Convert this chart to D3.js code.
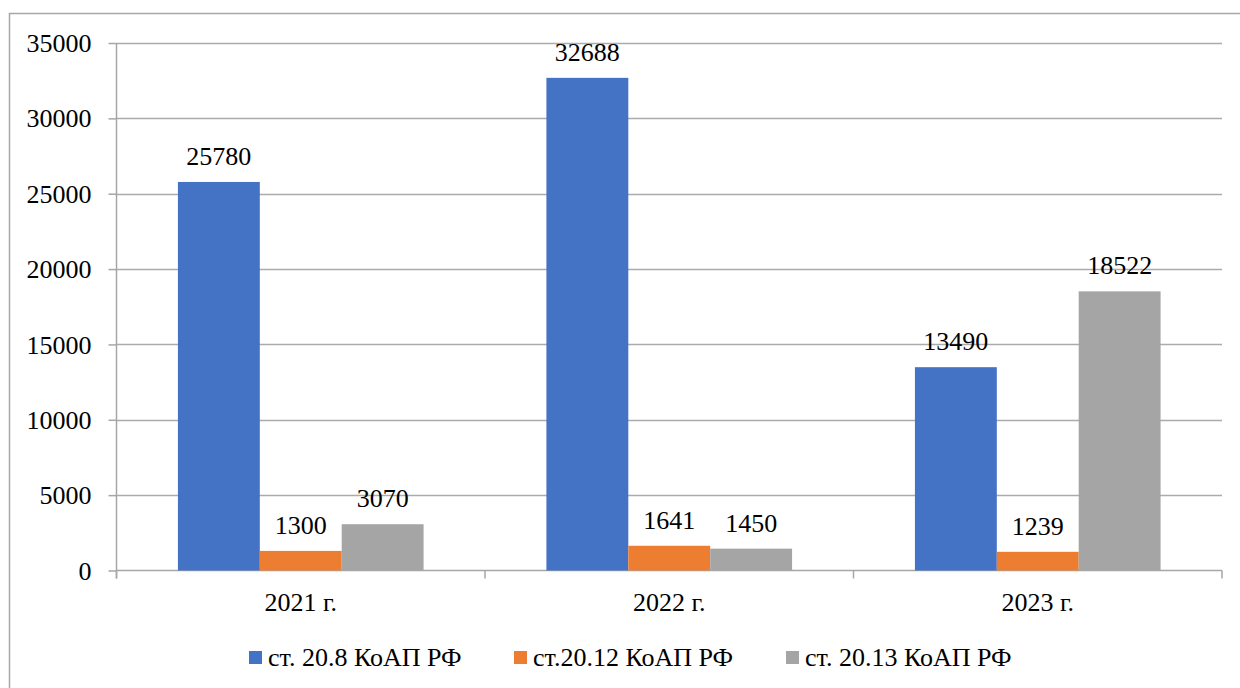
<!DOCTYPE html>
<html>
<head>
<meta charset="utf-8">
<script src="https://cdn.jsdelivr.net/npm/d3@7"></script>
<style>
  html, body { margin: 0; padding: 0; background: #fff; }
  svg { display: block; }
  svg text { font-family: "Liberation Serif", "Times New Roman", Tinos, serif !important; }
</style>
</head>
<body>
<svg id="fig" width="1240" height="688" style="font-family: 'Liberation Serif', 'Times New Roman', serif"></svg>
<script>
const categories = ["2021 г.", "2022 г.", "2023 г."];
const seriesNames = ["ст. 20.8 КоАП РФ", "ст.20.12 КоАП РФ", "ст. 20.13 КоАП РФ"];
const series208 = [25780, 32688, 13490];
const series2012 = [1300, 1641, 1239];
const series2013 = [3070, 1450, 18522];
const yTicks = [0, 5000, 10000, 15000, 20000, 25000, 30000, 35000];
const colors = ["#4472C4", "#ED7D31", "#A5A5A5"];

const seriesValues = [series208, series2012, series2013];
const FONT_STYLE = "font-family: 'Liberation Serif', 'Times New Roman', serif; font-size: 26px";

const svg = d3.select("#fig");

// outer chart border
svg.append("rect")
  .attr("x", 9.5).attr("y", 13.5)
  .attr("width", 1240).attr("height", 700)
  .attr("fill", "#fff").attr("stroke", "#A6A6A6").attr("stroke-width", 1.5);

const plot = { left: 116.5, right: 1222, top: 43, bottom: 570.5 };

const x0 = d3.scaleBand().domain(categories).range([plot.left, plot.right]).paddingInner(0).paddingOuter(0);
const groupW = x0.bandwidth() * (3 / 4.5);
const x1 = d3.scaleBand().domain(d3.range(seriesNames.length)).range([0, groupW]).padding(0);
const y = d3.scaleLinear().domain([0, 35000]).range([plot.bottom, plot.top]);

// gridlines
svg.append("g")
  .selectAll("line")
  .data(yTicks.filter(d => d > 0))
  .join("line")
  .attr("x1", plot.left).attr("x2", plot.right)
  .attr("y1", d => Math.round(y(d)) + 0.5).attr("y2", d => Math.round(y(d)) + 0.5)
  .attr("stroke", "#ABABAB").attr("stroke-width", 1.5);

// y axis
const yAxis = d3.axisLeft(y).tickValues(yTicks).tickSize(8).tickPadding(17).tickFormat(d3.format("d"));
const gy = svg.append("g").attr("transform", `translate(${plot.left},0)`).call(yAxis);
gy.attr("font-family", "Liberation Serif").attr("font-size", 26);
gy.select(".domain").attr("d", `M0,${plot.top}V${plot.bottom + 8}`).attr("stroke", "#A6A6A6").attr("stroke-width", 1.5);
gy.selectAll(".tick line").attr("stroke", "#A6A6A6").attr("stroke-width", 1.5);
gy.selectAll(".tick text").attr("style", FONT_STYLE).attr("fill", "#000").attr("dy", "0.33em");

// x axis baseline & category labels
const xAxis = d3.axisBottom(x0).tickSize(0).tickPadding(0);
const gx = svg.append("g").attr("transform", `translate(0,${plot.bottom})`).call(xAxis);
gx.attr("font-family", "Liberation Serif").attr("font-size", 26);
gx.select(".domain").attr("d", `M${plot.left},0H${plot.right}`).attr("stroke", "#A6A6A6").attr("stroke-width", 1.5);
gx.selectAll(".tick text")
  .attr("style", FONT_STYLE).attr("fill", "#000")
  .attr("y", 40).attr("dy", 0);
const boundaries = categories.map(c => x0(c)).concat([x0(categories[categories.length - 1]) + x0.bandwidth()]);
gx.selectAll(".bound")
  .data(boundaries)
  .join("line")
  .attr("class", "bound")
  .attr("x1", d => d).attr("x2", d => d)
  .attr("y1", 0).attr("y2", 8)
  .attr("stroke", "#A6A6A6").attr("stroke-width", 1.5);

// bars
const groups = svg.append("g").selectAll("g")
  .data(categories)
  .join("g")
  .attr("transform", c => `translate(${x0(c) + (x0.bandwidth() - groupW) / 2},0)`);

groups.selectAll("rect")
  .data((c, ci) => seriesValues.map((vals, si) => ({ si, v: vals[ci] })))
  .join("rect")
  .attr("x", d => x1(d.si))
  .attr("width", x1.bandwidth())
  .attr("y", d => y(d.v))
  .attr("height", d => y(0) - y(d.v))
  .attr("fill", d => colors[d.si]);

groups.selectAll("text.lbl")
  .data((c, ci) => seriesValues.map((vals, si) => ({ si, v: vals[ci] })))
  .join("text")
  .attr("class", "lbl")
  .attr("x", d => x1(d.si) + x1.bandwidth() / 2)
  .attr("y", d => y(d.v) - 17)
  .attr("text-anchor", "middle")
  .attr("fill", "#000")
  .attr("font-family", "Liberation Serif")
  .attr("style", FONT_STYLE)
  .text(d => d.v);

// legend
const legendX = [249, 514, 786];
const legend = svg.append("g");
const items = legend.selectAll("g")
  .data(seriesNames)
  .join("g")
  .attr("transform", (d, i) => `translate(${legendX[i]},651)`);
items.append("rect").attr("width", 13).attr("height", 13).attr("fill", (d, i) => colors[i]);
items.append("text").attr("x", 19).attr("y", 15)
  .attr("fill", "#000")
  .attr("font-family", "Liberation Serif")
  .attr("style", FONT_STYLE).text(d => d);
</script>
</body>
</html>
